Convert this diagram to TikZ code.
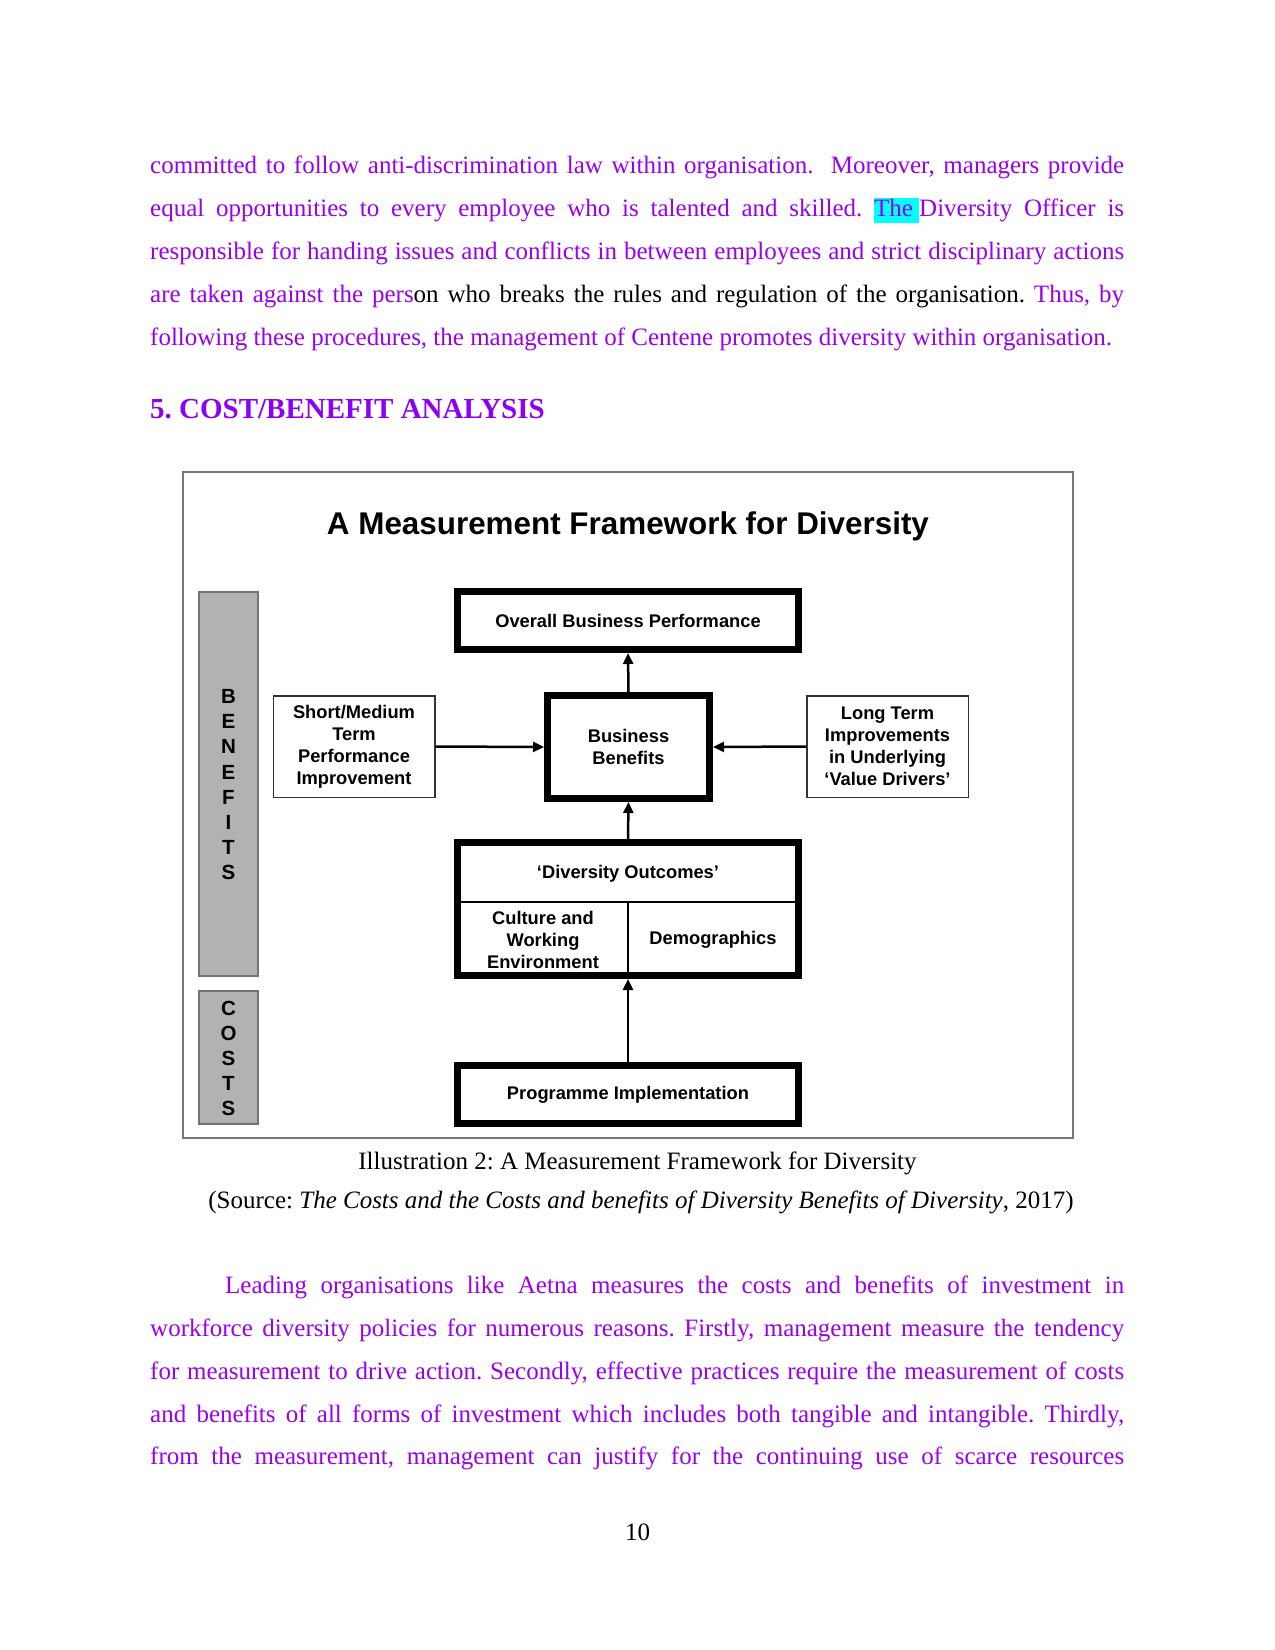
\documentclass[tikz,border=0pt]{standalone}
\usepackage{fontspec}
\setmainfont{Liberation Serif}
\newfontfamily\arialfont{Liberation Sans}
\usetikzlibrary{arrows.meta}
\definecolor{purp}{RGB}{153,0,238}
\definecolor{headpurp}{RGB}{140,0,245}
\definecolor{hl}{RGB}{0,255,255}
\definecolor{bargray}{RGB}{178,178,178}
\definecolor{framegray}{RGB}{120,120,120}
\newcommand{\bodyfont}{\fontsize{25}{30}\selectfont}
\newcommand{\boxfont}{\arialfont\bfseries\fontsize{18.3}{22}\selectfont}
\frenchspacing
\begin{document}
\begin{tikzpicture}[x=1pt,y=-1pt,
  bodyline/.style={anchor=base west, inner sep=0pt, font=\bodyfont, text=purp},
  thickbox/.style={draw=black, line width=7pt, fill=white, align=center, font=\boxfont, inner sep=2pt},
  thinbox/.style={draw=black!80, line width=1.5pt, fill=white, align=center, font=\boxfont, inner sep=2pt},
  bar/.style={draw=black!55, line width=1.5pt, fill=bargray},
  barletter/.style={font=\arialfont\bfseries\fontsize{20.5}{22}\selectfont, inner sep=0pt},
  conn/.style={line width=2.5pt, -{Triangle[length=11pt,width=10pt]}},
  plain/.style={inner sep=0pt, align=center}
]
\useasboundingbox (0,0) rectangle (1275,1650);

% ---- first paragraph ----
\node[bodyline] (l1) at (150,173.5) {\makebox[974pt][s]{committed to follow anti-discrimination law within organisation.\ \ Moreover, managers provide}};
\node[bodyline] (l2) at (150,216.5) {\makebox[974pt][s]{equal opportunities to every employee who is talented and skilled. {\setlength{\fboxsep}{0pt}\colorbox{hl}{\rule[-6pt]{0pt}{25pt}The\ }}Diversity Officer is}};
\node[bodyline] (l3) at (150,259.5) {\makebox[974pt][s]{responsible for handing issues and conflicts in between employees and strict disciplinary actions}};
\node[bodyline] (l4) at (150,302.5) {\makebox[974pt][s]{are taken against the pers{\color{black}on who breaks the rules and regulation of the organisation.} Thus, by}};
\node[bodyline] (l5) at (150,345.5) {following these procedures, the management of Centene promotes diversity within organisation.};

% ---- heading ----
\node[anchor=base west, inner sep=0pt, font=\bfseries\fontsize{29}{34}\selectfont, text=headpurp] (head) at (150,418) {5. COST/BENEFIT ANALYSIS};

% ---- diagram frame ----
\draw[draw=framegray, line width=1.5pt, fill=white] (183,472) rectangle (1073,1138);
\node[anchor=base, inner sep=0pt, font=\arialfont\bfseries\fontsize{31.4}{36}\selectfont] (title) at (628,534) {A Measurement Framework for Diversity};

% side bars
\draw[bar] (199,592) rectangle (258,976);
\draw[bar] (199,991) rectangle (258,1124);
\foreach \l [count=\i] in {B,E,N,E,F,I,T,S}
  \node[barletter] (ben\i) at (228.5,{696.4+25.2*(\i-1)}) {\l};
\foreach \l [count=\i] in {C,O,S,T,S}
  \node[barletter] (cost\i) at (228.5,{1008+25.2*(\i-1)}) {\l};

% boxes
\node[thickbox, minimum width=341pt, minimum height=58pt] (obp) at (628,620.5) {Overall Business Performance};
\node[thickbox, minimum width=162pt, minimum height=103pt] (bb) at (628.5,747) {Business\\Benefits};
\node[thinbox, minimum width=161.5pt, minimum height=101.5pt] (smt) at (354,746.5) {Short/Medium\\Term\\Performance\\Improvement};
\node[thinbox, minimum width=161.5pt, minimum height=101.5pt] (ltv) at (887.5,746.5) {Long Term\\Improvements\\in Underlying\\‘Value Drivers’};
\node[thickbox, minimum width=341pt, minimum height=133pt] (div) at (628,909) {};
\draw[line width=2pt] (div.west |- 0,902) -- (div.east |- 0,902);
\draw[line width=2pt] (628,902) -- (div.south -| 628,0);
\node[plain, font=\boxfont] (divt) at (628,874) {‘Diversity Outcomes’};
\node[plain, font=\boxfont] (cult) at (543,940) {Culture and\\Working\\Environment};
\node[plain, font=\boxfont] (demo) at (713,940) {Demographics};
\node[thickbox, minimum width=341pt, minimum height=58pt] (prog) at (628,1094.5) {Programme Implementation};

% connectors
\draw[conn] (bb.north) -- (obp.south);
\draw[conn] (div.north) -- (bb.south);
\draw[conn] (prog.north) -- (div.south);
\draw[conn] (smt.east) -- (bb.west);
\draw[conn] (ltv.west) -- (bb.east);

% ---- caption ----
\node[anchor=base, inner sep=0pt, font=\bodyfont] (cap1) at (637.5,1169.5) {Illustration 2: A Measurement Framework for Diversity};
\node[anchor=base, inner sep=0pt, font=\bodyfont] (cap2) at (641,1208.5) {(Source: \textit{The Costs and the Costs and benefits of Diversity Benefits of Diversity}, 2017)};

% ---- second paragraph ----
\node[bodyline] (m1) at (225,1293.5) {\makebox[899pt][s]{Leading organisations like Aetna measures the costs and benefits of investment in}};
\node[bodyline] (m2) at (150,1336.5) {\makebox[974pt][s]{workforce diversity policies for numerous reasons. Firstly, management measure the tendency}};
\node[bodyline] (m3) at (150,1379.5) {\makebox[974pt][s]{for measurement to drive action. Secondly, effective practices require the measurement of costs}};
\node[bodyline] (m4) at (150,1422.5) {\makebox[974pt][s]{and benefits of all forms of investment which includes both tangible and intangible. Thirdly,}};
\node[bodyline] (m5) at (150,1464.5) {\makebox[974pt][s]{from the measurement, management can justify for the continuing use of scarce resources}};

\node[anchor=base, inner sep=0pt, font=\bodyfont] (pnum) at (637.5,1540) {10};
\end{tikzpicture}
\end{document}
